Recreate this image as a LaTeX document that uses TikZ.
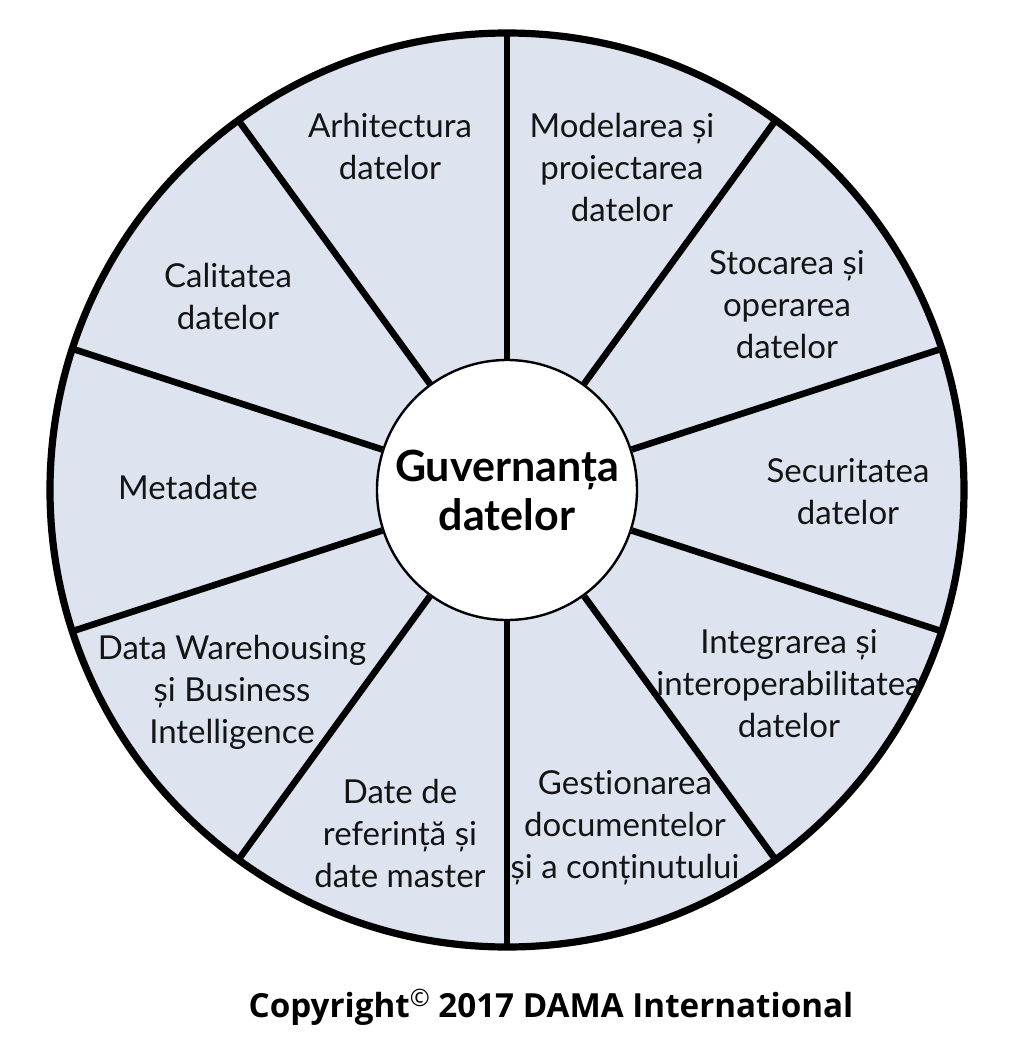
\documentclass[tikz,border=0pt]{standalone}
\usepackage{fontspec}
\setmainfont{Lato}[Ligatures=NoCommon]
\newfontfamily\copyfont{Open Sans}
\definecolor{wheelfill}{RGB}{221,228,240}

\begin{document}
\begin{tikzpicture}[x=0.5pt,y=0.5pt,
        spoke/.style={line width=3.3pt},
        area/.style={align=center,text=black!92,font=\fontsize{16.5}{21}\selectfont}]
        \useasboundingbox (-507,-566) rectangle (501,490);

        % outer wheel
        \draw[line width=3.6pt,fill=wheelfill] (0,0) circle (457);

        % hub
        \node[circle,draw,fill=white,line width=1.2pt,minimum size=130pt,inner sep=0pt,
              align=center,font=\bfseries\fontsize{21.5}{24.5}\selectfont] (hub) at (0,0)
              {Guvernanța\\datelor};

        \draw[spoke] (hub.18) -- (18:457);
        \draw[spoke] (hub.54) -- (54:457);
        \draw[spoke] (hub.90) -- (90:457);
        \draw[spoke] (hub.126) -- (126:457);
        \draw[spoke] (hub.162) -- (162:457);
        \draw[spoke] (hub.198) -- (198:457);
        \draw[spoke] (hub.234) -- (234:457);
        \draw[spoke] (hub.270) -- (270:457);
        \draw[spoke] (hub.306) -- (306:457);
        \draw[spoke] (hub.342) -- (342:457);

        \node[area] (arch) at (-117,344) {Arhitectura\\datelor};
        \node[area] (model) at (115,323) {Modelarea și\\proiectarea\\datelor};
        \node[area] (stoc) at (280,185) {Stocarea și\\operarea\\datelor};
        \node[area] (secur) at (341,-2) {Securitatea\\datelor};
        \node[area] (integr) at (282,-194) {Integrarea și\\interoperabilitatea\\datelor};
        \node[area] (docum) at (118,-338) {Gestionarea\\documentelor\\și a conținutului};
        \node[area] (refmd) at (-107,-343) {Date de\\referință și\\date master};
        \node[area] (dwbi) at (-275,-202) {Data Warehousing\\și Business\\Intelligence};
        \node[area] (meta) at (-319,3) {Metadate};
        \node[area] (calit) at (-279,194) {Calitatea\\datelor};

        \node[font=\copyfont\bfseries\fontsize{16.6}{18}\selectfont] (copy) at (44,-517)
              {Copyright\raisebox{0.6ex}{\mdseries\fontsize{12}{12}\selectfont ©} 2017 DAMA International};

    \end{tikzpicture}
\end{document}
